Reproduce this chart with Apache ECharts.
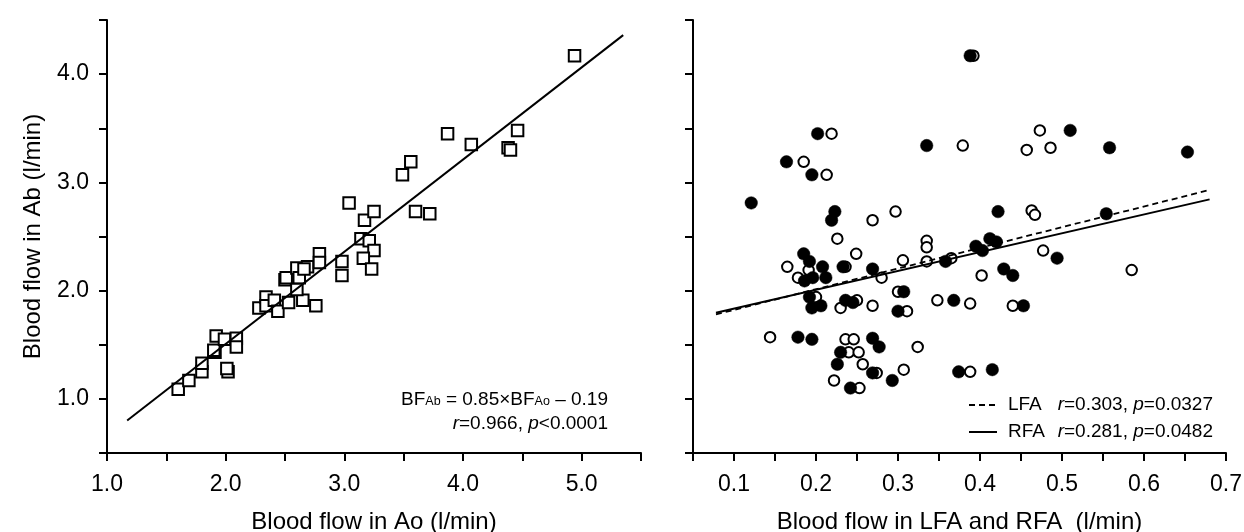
<!DOCTYPE html>
<html>
<head>
<meta charset="utf-8">
<script src="https://cdn.jsdelivr.net/npm/echarts@6/dist/echarts.min.js"></script>
<style>
html,body{margin:0;padding:0;background:#fff;}
#chart{width:1244px;height:532px;}
</style>
</head>
<body>
<div id="chart"></div>
<script>
// ---- Left panel: Blood flow in Ao (x) vs Ab (y) ----
const aoFlow = [1.60,1.69,1.80,1.80,2.02,2.01,1.91,1.90,1.92,1.99,2.09,2.09,2.28,2.34,2.34,2.41,2.44,2.53,2.65,2.76,2.50,2.51,2.60,2.62,2.69,2.66,2.60,2.79,2.79,2.98,2.98,3.14,3.21,3.25,3.16,3.23,3.04,3.17,3.25,3.49,3.56,3.60,3.72,3.87,4.07,4.38,4.40,4.46,4.94];
const abFlow = [1.09,1.17,1.25,1.33,1.25,1.28,1.43,1.45,1.58,1.55,1.56,1.48,1.84,1.94,1.86,1.91,1.81,1.89,1.91,1.86,2.10,2.12,2.21,2.12,2.22,2.20,2.01,2.34,2.26,2.27,2.14,2.48,2.46,2.37,2.30,2.20,2.81,2.65,2.73,3.07,3.19,2.73,2.71,3.45,3.35,3.32,3.30,3.48,4.17];
const abFitX = [1.17, 5.35];
const abFitY = [0.80, 4.36];

// ---- Right panel: LFA (open) and RFA (filled) vs Ab ----
const rfaX = [0.202,0.164,0.195,0.121,0.223,0.219,0.185,0.192,0.208,0.233,0.269,0.186,0.196,0.212,0.192,0.195,0.206,0.236,0.245,0.307,0.300,0.178,0.195,0.269,0.277,0.230,0.226,0.269,0.293,0.242,0.388,0.335,0.510,0.558,0.422,0.554,0.358,0.395,0.403,0.412,0.420,0.494,0.429,0.440,0.368,0.453,0.374,0.415,0.653];
const rfaY = [3.45,3.19,3.07,2.81,2.73,2.65,2.34,2.27,2.22,2.22,2.20,2.09,2.12,2.12,1.94,1.84,1.86,1.91,1.89,1.99,1.81,1.57,1.55,1.56,1.48,1.43,1.32,1.24,1.17,1.10,4.17,3.34,3.48,3.32,2.73,2.71,2.27,2.41,2.37,2.48,2.45,2.30,2.20,2.14,1.91,1.86,1.25,1.27,3.28];
const lfaX = [0.219,0.185,0.213,0.269,0.297,0.226,0.249,0.306,0.165,0.236,0.191,0.178,0.280,0.200,0.250,0.230,0.269,0.300,0.311,0.144,0.236,0.246,0.324,0.240,0.252,0.257,0.274,0.307,0.222,0.253,0.392,0.379,0.473,0.457,0.486,0.463,0.467,0.335,0.335,0.335,0.365,0.477,0.402,0.348,0.388,0.440,0.388,0.585];
const lfaY = [3.45,3.19,3.07,2.65,2.73,2.48,2.34,2.28,2.22,2.22,2.19,2.12,2.12,1.94,1.91,1.84,1.86,1.99,1.81,1.57,1.55,1.55,1.48,1.43,1.43,1.32,1.24,1.27,1.17,1.10,4.17,3.34,3.48,3.30,3.32,2.74,2.70,2.46,2.40,2.27,2.30,2.37,2.14,1.91,1.88,1.86,1.25,2.19];
const lfaFitX = [0.078, 0.68];
const lfaFitY = [1.78, 2.93];
const rfaFitX = [0.078, 0.68];
const rfaFitY = [1.795, 2.843];

// ---- Axis / text labels ----
const leftXName = 'Blood flow in Ao (l/min)';
const leftYName = 'Blood flow in Ab (l/min)';
const rightXName = 'Blood flow in LFA and RFA  (l/min)';
const legendNames = ['LFA', 'RFA'];
const legendStats = [['0.303', '0.0327'], ['0.281', '0.0482']];

const pairs = (xs, ys) => xs.map((x, i) => [x, ys[i]]);
const FONT = '"Liberation Sans", Arial, Helvetica, sans-serif';

const axisCommon = {
  type: 'value',
  splitLine: { show: false },
  axisLine: { show: true, onZero: false, lineStyle: { color: '#000', width: 2 } },
  axisTick: { show: true, length: 8, lineStyle: { color: '#000', width: 2 } },
  nameLocation: 'middle',
  nameTextStyle: { fontSize: 24, color: '#000', fontFamily: FONT }
};
const intLabel = v => Math.abs(v - Math.round(v)) < 1e-6 ? v.toFixed(1) : '';
const tenthLabel = v => Math.round(v * 100) % 10 === 0 ? v.toFixed(1) : '';

const chart = echarts.init(document.getElementById('chart'));
chart.setOption({
  animation: false,
  backgroundColor: '#fff',
  grid: [
    { left: 107, top: 20, width: 534, height: 433, containLabel: false, outerBoundsMode: 'none' },
    { left: 693, top: 20, width: 533, height: 433, containLabel: false, outerBoundsMode: 'none' }
  ],
  xAxis: [
    Object.assign({}, axisCommon, {
      gridIndex: 0, min: 1, max: 5.5, interval: 0.5,
      name: leftXName, nameGap: 57,
      axisLabel: { formatter: intLabel, fontSize: 23, color: '#000', margin: 20, fontFamily: FONT }
    }),
    Object.assign({}, axisCommon, {
      gridIndex: 1, min: 0.05, max: 0.7, interval: 0.05,
      name: rightXName, nameGap: 57,
      axisLabel: { formatter: tenthLabel, fontSize: 23, color: '#000', margin: 20, fontFamily: FONT, showMaxLabel: true }
    })
  ],
  yAxis: [
    Object.assign({}, axisCommon, {
      gridIndex: 0, min: 0.5, max: 4.5, interval: 0.5,
      name: leftYName, nameGap: 62,
      axisLabel: { formatter: intLabel, fontSize: 23, color: '#000', margin: 18, fontFamily: FONT }
    }),
    Object.assign({}, axisCommon, {
      gridIndex: 1, min: 0.5, max: 4.5, interval: 0.5,
      axisLabel: { show: false }
    })
  ],
  series: [
    {
      type: 'scatter', xAxisIndex: 0, yAxisIndex: 0,
      data: pairs(aoFlow, abFlow),
      symbol: 'rect', symbolSize: 11.5,
      itemStyle: { color: '#fff', borderColor: '#000', borderWidth: 2, opacity: 1 }
    },
    {
      type: 'line', xAxisIndex: 0, yAxisIndex: 0,
      data: pairs(abFitX, abFitY), symbol: 'none',
      lineStyle: { color: '#000', width: 2 }, z: 3
    },
    {
      name: 'LFA', type: 'scatter', xAxisIndex: 1, yAxisIndex: 1,
      data: pairs(lfaX, lfaY),
      symbol: 'circle', symbolSize: 10.5,
      itemStyle: { color: '#fff', borderColor: '#000', borderWidth: 2, opacity: 1 }
    },
    {
      name: 'RFA', type: 'scatter', xAxisIndex: 1, yAxisIndex: 1,
      data: pairs(rfaX, rfaY),
      symbol: 'circle', symbolSize: 12.5,
      itemStyle: { color: '#000', borderColor: '#000', borderWidth: 0.5, opacity: 1 }
    },
    {
      type: 'line', xAxisIndex: 1, yAxisIndex: 1,
      data: pairs(lfaFitX, lfaFitY), symbol: 'none',
      lineStyle: { color: '#000', width: 1.8, type: [6, 4] }, z: 3
    },
    {
      type: 'line', xAxisIndex: 1, yAxisIndex: 1,
      data: pairs(rfaFitX, rfaFitY), symbol: 'none',
      lineStyle: { color: '#000', width: 2 }, z: 3
    }
  ],
  graphic: [
    {
      type: 'text', x: 608, y: 399,
      style: {
        text: '{n|BF}{s|Ab}{n| = 0.85×BF}{s|Ao}{n| – 0.19}',
        align: 'right', verticalAlign: 'middle',
        rich: {
          n: { fontSize: 19, fontFamily: FONT, fill: '#000', verticalAlign: 'bottom', lineHeight: 20 },
          s: { fontSize: 12.5, fontFamily: FONT, fill: '#000', verticalAlign: 'bottom', lineHeight: 20, padding: [0, 0, 1, 0] }
        }
      }
    },
    {
      type: 'text', x: 608, y: 424,
      style: {
        text: '{i|r}{n|=0.966, }{i|p}{n|<0.0001}',
        align: 'right', verticalAlign: 'middle',
        rich: {
          n: { fontSize: 19, fontFamily: FONT, fill: '#000' },
          i: { fontSize: 19, fontFamily: FONT, fill: '#000', fontStyle: 'italic' }
        }
      }
    },
    // legend rows (right panel)
    { type: 'line', shape: { x1: 969, y1: 405, x2: 997, y2: 405 }, style: { stroke: '#000', lineWidth: 1.8, lineDash: [6, 4] } },
    { type: 'line', shape: { x1: 969, y1: 432, x2: 997, y2: 432 }, style: { stroke: '#000', lineWidth: 2 } },
    { type: 'text', x: 1008, y: 405, style: { text: legendNames[0], fontSize: 19, fontFamily: FONT, fill: '#000', verticalAlign: 'middle' } },
    { type: 'text', x: 1008, y: 432, style: { text: legendNames[1], fontSize: 19, fontFamily: FONT, fill: '#000', verticalAlign: 'middle' } },
    {
      type: 'text', x: 1213, y: 405,
      style: {
        text: '{i|r}{n|=' + legendStats[0][0] + ', }{i|p}{n|=' + legendStats[0][1] + '}',
        align: 'right', verticalAlign: 'middle',
        rich: {
          n: { fontSize: 19, fontFamily: FONT, fill: '#000' },
          i: { fontSize: 19, fontFamily: FONT, fill: '#000', fontStyle: 'italic' }
        }
      }
    },
    {
      type: 'text', x: 1213, y: 432,
      style: {
        text: '{i|r}{n|=' + legendStats[1][0] + ', }{i|p}{n|=' + legendStats[1][1] + '}',
        align: 'right', verticalAlign: 'middle',
        rich: {
          n: { fontSize: 19, fontFamily: FONT, fill: '#000' },
          i: { fontSize: 19, fontFamily: FONT, fill: '#000', fontStyle: 'italic' }
        }
      }
    }
  ]
});
</script>
</body>
</html>
